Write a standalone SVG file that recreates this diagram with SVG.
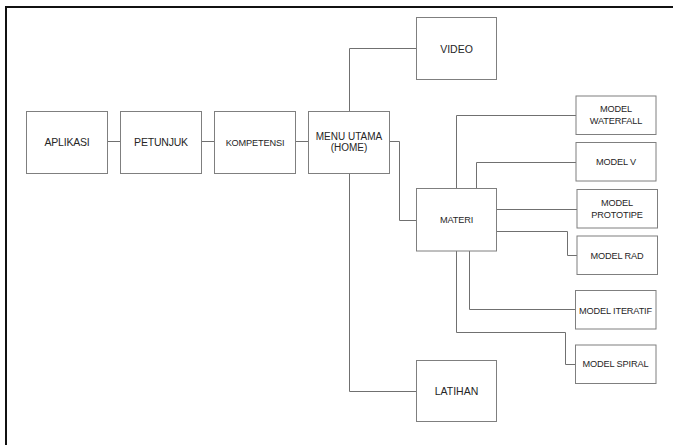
<svg xmlns="http://www.w3.org/2000/svg" width="673" height="445" viewBox="0 0 673 445">
<style>
.box{fill:#fff;stroke:#7f7f7f;stroke-width:1}
.ln{fill:none;stroke:#707070;stroke-width:1}
text{font-family:"Liberation Sans",Arial,sans-serif;fill:#262626;text-anchor:middle}
.b{font-size:10.5px}
.s{font-size:9.2px;letter-spacing:-0.15px}
.m{font-size:10px}
</style>
<rect width="673" height="445" fill="#fff"/>
<path d="M6 445 V7 H673" fill="none" stroke="#111" stroke-width="2"/>
<g id="connectors">
<path class="ln" d="M107.5 141.5 H120.5"/>
<path class="ln" d="M201.5 141.5 H214.5"/>
<path class="ln" d="M295.5 141.5 H308.5"/>
<path class="ln" d="M349.5 111 V48.5 H416"/>
<path class="ln" d="M389.5 141.5 H399.5 V220.5 H416"/>
<path class="ln" d="M349.5 173 V391.5 H416"/>
<path class="ln" d="M456.5 188.5 V115.5 H576"/>
<path class="ln" d="M476.5 188.5 V162.5 H576"/>
<path class="ln" d="M496.5 209.5 H577"/>
<path class="ln" d="M496.5 231.5 H567.5 V255.5 H577"/>
<path class="ln" d="M469.5 251 V309.5 H575.5"/>
<path class="ln" d="M456.5 251 V332.5 H565.5 V364.5 H575.5"/>
</g>
<g id="aplikasi"><rect class="box" x="26.5" y="111.5" width="81" height="62"/><text class="b" x="67" y="146" letter-spacing="-0.2">APLIKASI</text></g>
<g id="petunjuk"><rect class="box" x="120.5" y="111.5" width="81" height="62"/><text class="b" x="161" y="146" letter-spacing="-0.2">PETUNJUK</text></g>
<g id="kompetensi"><rect class="box" x="214.5" y="111.5" width="81" height="62"/><text class="s" x="255" y="145.5">KOMPETENSI</text></g>
<g id="menu"><rect class="box" x="308.5" y="111.5" width="81" height="62"/><text class="m" x="349" y="139.5">MENU UTAMA</text><text class="m" x="349" y="150.5">(HOME)</text></g>
<g id="video"><rect class="box" x="416.5" y="17.5" width="80" height="62"/><text class="b" x="456.5" y="52.5" font-size="11">VIDEO</text></g>
<g id="materi"><rect class="box" x="416.5" y="188.5" width="80" height="62.5"/><text class="s" x="456.5" y="222.5">MATERI</text></g>
<g id="latihan"><rect class="box" x="416.5" y="360.5" width="80" height="61"/><text class="b" x="456.5" y="395">LATIHAN</text></g>
<g id="waterfall"><rect class="box" x="576" y="96" width="80" height="38.5"/><text class="s" x="616" y="111.5">MODEL</text><text class="s" x="616" y="123.5">WATERFALL</text></g>
<g id="modelv"><rect class="box" x="576" y="142.5" width="80" height="38.5"/><text class="s" x="616" y="164.5">MODEL V</text></g>
<g id="prototipe"><rect class="box" x="577" y="189.5" width="80.5" height="38.5"/><text class="s" x="617" y="205.5">MODEL</text><text class="s" x="617" y="217.5">PROTOTIPE</text></g>
<g id="rad"><rect class="box" x="577" y="236" width="80.5" height="38.5"/><text class="s" x="617" y="258.5">MODEL RAD</text></g>
<g id="iteratif"><rect class="box" x="575.5" y="290.5" width="80.5" height="38.5"/><text class="s" x="615.5" y="313.5">MODEL ITERATIF</text></g>
<g id="spiral"><rect class="box" x="575.5" y="345" width="80.5" height="38.5"/><text class="s" x="615.5" y="367">MODEL SPIRAL</text></g>
</svg>
